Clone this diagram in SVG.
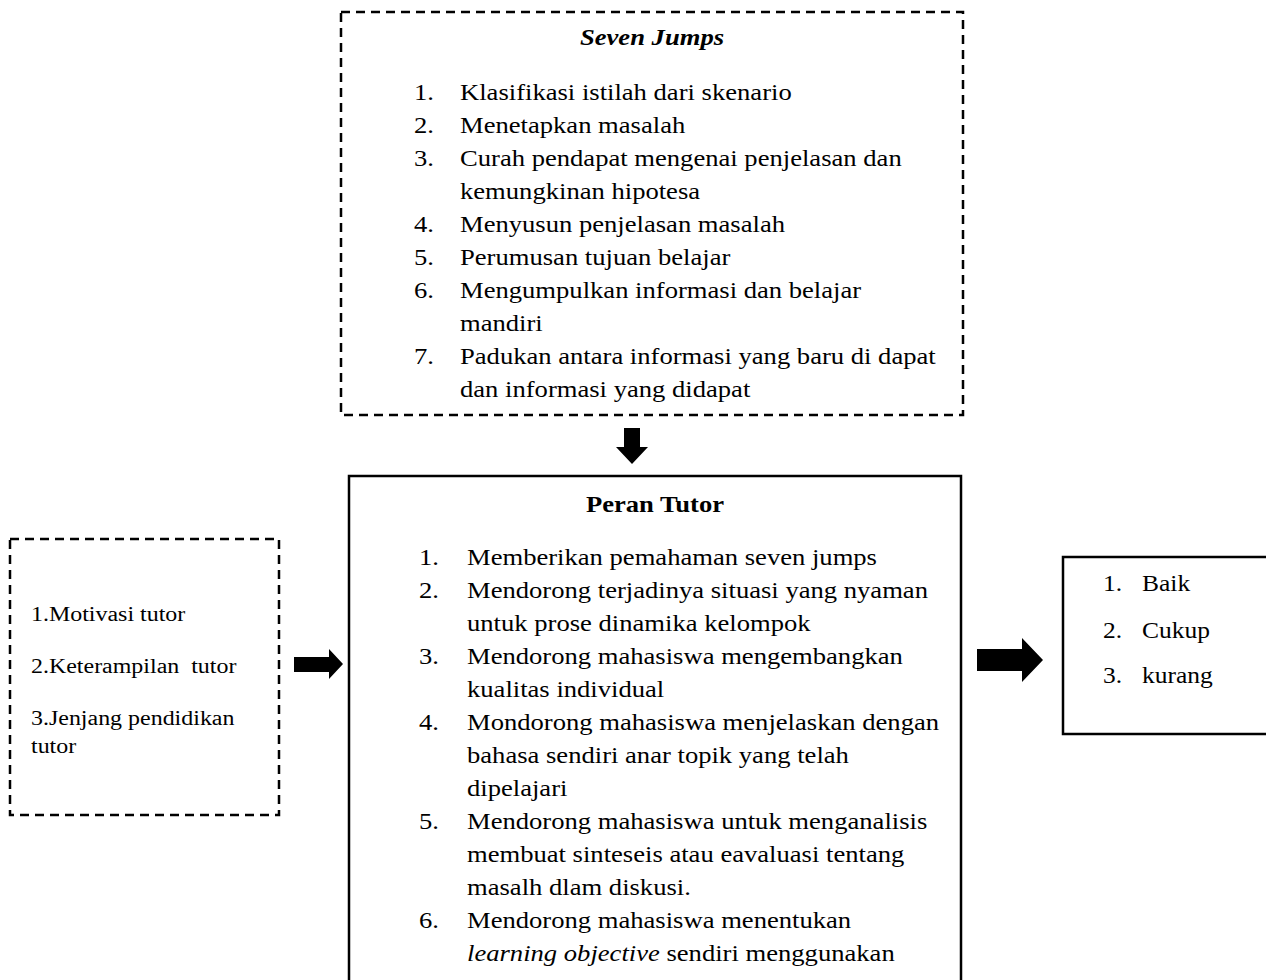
<svg xmlns="http://www.w3.org/2000/svg" width="1266" height="980" viewBox="0 0 1266 980">
<style>
text{font-family:"Liberation Serif","Times New Roman",serif;font-size:24px;fill:#000;transform:scaleX(1.109);transform-box:fill-box;transform-origin:0 0}
text.c{transform-origin:50% 50%}
.dash{fill:none;stroke:#000;stroke-width:2.5;stroke-dasharray:9,6}
.solid{fill:#fff;stroke:#000;stroke-width:2.5}
.sm{font-size:21.6px}
.rs{font-size:23px}
.ar{fill:#000}
</style>
<rect width="1266" height="980" fill="#fff"/>
<g id="seven-jumps">
<rect class="dash" x="341" y="12" width="622" height="403"/>
<text class="c" x="652" y="45" text-anchor="middle" font-weight="bold" font-style="italic">Seven Jumps</text>
<text x="414" y="100">1.</text><text x="460" y="100">Klasifikasi istilah dari skenario</text>
<text x="414" y="133">2.</text><text x="460" y="133">Menetapkan masalah</text>
<text x="414" y="166">3.</text><text x="460" y="166">Curah pendapat mengenai penjelasan dan</text>
<text x="460" y="199">kemungkinan hipotesa</text>
<text x="414" y="232">4.</text><text x="460" y="232">Menyusun penjelasan masalah</text>
<text x="414" y="265">5.</text><text x="460" y="265">Perumusan tujuan belajar</text>
<text x="414" y="298">6.</text><text x="460" y="298">Mengumpulkan informasi dan belajar</text>
<text x="460" y="331">mandiri</text>
<text x="414" y="364">7.</text><text x="460" y="364">Padukan antara informasi yang baru di dapat</text>
<text x="460" y="397">dan informasi yang didapat</text>
</g>
<g id="peran-tutor">
<rect class="solid" x="349" y="476" width="612" height="520"/>
<text class="c" x="655" y="512" text-anchor="middle" font-weight="bold">Peran Tutor</text>
<text x="419" y="565">1.</text><text x="467" y="565">Memberikan pemahaman seven jumps</text>
<text x="419" y="598">2.</text><text x="467" y="598">Mendorong terjadinya situasi yang nyaman</text>
<text x="467" y="631">untuk prose dinamika kelompok</text>
<text x="419" y="664">3.</text><text x="467" y="664">Mendorong mahasiswa mengembangkan</text>
<text x="467" y="697">kualitas individual</text>
<text x="419" y="730">4.</text><text x="467" y="730">Mondorong mahasiswa menjelaskan dengan</text>
<text x="467" y="763">bahasa sendiri anar topik yang telah</text>
<text x="467" y="796">dipelajari</text>
<text x="419" y="829">5.</text><text x="467" y="829">Mendorong mahasiswa untuk menganalisis</text>
<text x="467" y="862">membuat sinteseis atau eavaluasi tentang</text>
<text x="467" y="895">masalh dlam diskusi.</text>
<text x="419" y="928">6.</text><text x="467" y="928">Mendorong mahasiswa menentukan</text>
<text x="467" y="961"><tspan font-style="italic">learning objective</tspan> sendiri menggunakan</text>
</g>
<g id="faktor-tutor">
<rect class="dash" x="10" y="539" width="269" height="276"/>
<text class="sm" x="31" y="621">1.Motivasi tutor</text>
<text class="sm" x="31" y="673" xml:space="preserve">2.Keterampilan  tutor</text>
<text class="sm" x="31" y="725">3.Jenjang pendidikan</text>
<text class="sm" x="31" y="753">tutor</text>
</g>
<g id="hasil">
<rect class="solid" x="1063" y="557" width="215" height="177"/>
<text class="rs" x="1103" y="591">1.</text><text class="rs" x="1142" y="591">Baik</text>
<text class="rs" x="1103" y="638">2.</text><text class="rs" x="1142" y="638">Cukup</text>
<text class="rs" x="1103" y="683">3.</text><text class="rs" x="1142" y="683">kurang</text>
</g>
<g id="connectors">
<polygon class="ar" points="624,428 640,428 640,447 648,447 632,464 616,447 624,447"/>
<polygon class="ar" points="294,657 329,657 329,649 343,664 329,679 329,672 294,672"/>
<polygon class="ar" points="977,649 1022,649 1022,638 1043,660 1022,682 1022,671 977,671"/>
</g>
</svg>
